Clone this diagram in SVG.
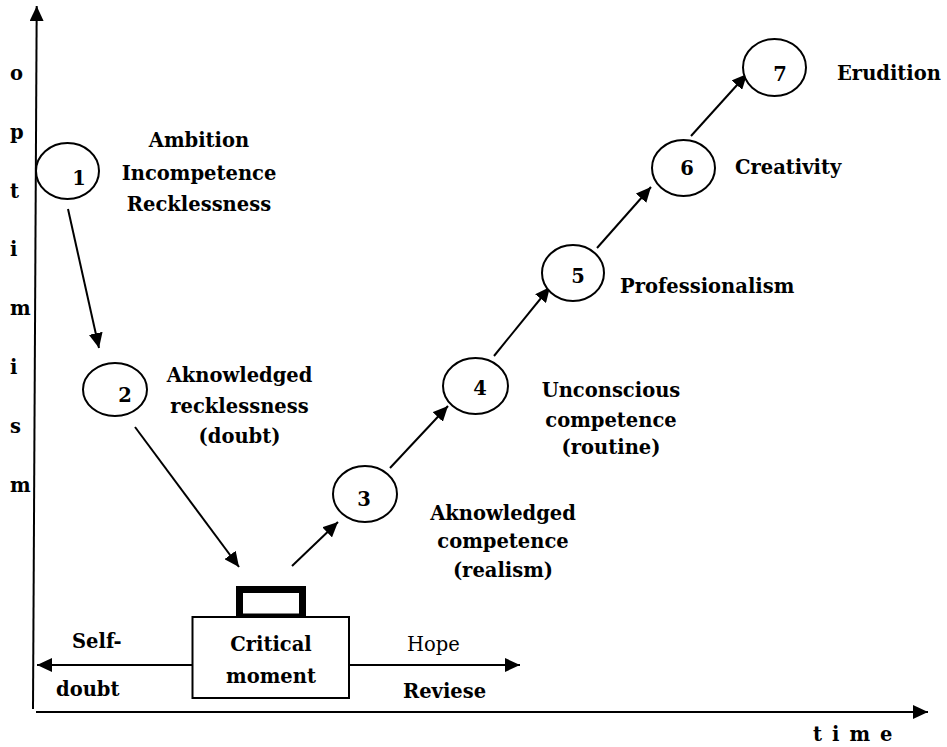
<svg xmlns="http://www.w3.org/2000/svg" width="947" height="747" viewBox="0 0 947 747">
<style>
text{font-family:"DejaVu Serif","Liberation Serif",serif;font-size:19.5px;fill:#000}
.b{font-weight:bold}
.c{text-anchor:middle}
.n{fill:#fff;stroke:#000;stroke-width:2}
.ln{stroke:#000;stroke-width:2;fill:none}
</style>
<defs>
<marker id="ah" viewBox="0 0 15 14" refX="15" refY="7" markerWidth="15" markerHeight="14" markerUnits="userSpaceOnUse" orient="auto">
<path d="M0,0 L15,7 L0,14 z" fill="#000"/>
</marker>
</defs>
<rect width="947" height="747" fill="#fff"/>
<g id="axes">
<line class="ln" x1="33" y1="709" x2="36.7" y2="6" marker-end="url(#ah)"/>
<line class="ln" x1="36" y1="712" x2="928" y2="712" marker-end="url(#ah)"/>
<g class="b">
<text x="10" y="80">o</text>
<text x="10" y="139">p</text>
<text x="10" y="197.6">t</text>
<text x="10" y="256.4">i</text>
<text x="10" y="315.2">m</text>
<text x="10" y="374">i</text>
<text x="10" y="432.8">s</text>
<text x="10" y="491.6">m</text>
</g>
<text class="b" x="813" y="741" letter-spacing="10">time</text>
</g>
<g id="connectors">
<line class="ln" x1="68" y1="209" x2="99" y2="348" marker-end="url(#ah)"/>
<line class="ln" x1="135" y1="427" x2="239" y2="567" marker-end="url(#ah)"/>
<line class="ln" x1="292" y1="566" x2="338" y2="522" marker-end="url(#ah)"/>
<line class="ln" x1="390" y1="468" x2="448" y2="406" marker-end="url(#ah)"/>
<line class="ln" x1="494" y1="356" x2="550" y2="287" marker-end="url(#ah)"/>
<line class="ln" x1="597" y1="248" x2="651" y2="187" marker-end="url(#ah)"/>
<line class="ln" x1="691" y1="136" x2="747" y2="74" marker-end="url(#ah)"/>
<line class="ln" x1="193" y1="665" x2="37" y2="665" marker-end="url(#ah)"/>
<line class="ln" x1="349" y1="665" x2="520" y2="665" marker-end="url(#ah)"/>
</g>
<g id="node1">
<ellipse class="n" cx="67.5" cy="171" rx="31.5" ry="28"/>
<text class="b c" x="79" y="185">1</text>
<text class="b c" x="199" y="147">Ambition</text>
<text class="b c" x="199" y="180">Incompetence</text>
<text class="b c" x="199" y="211">Recklessness</text>
</g>
<g id="node2">
<ellipse class="n" cx="115" cy="389.5" rx="32" ry="26.5"/>
<text class="b c" x="125" y="401.7">2</text>
<text class="b c" x="239.5" y="381.7">Aknowledged</text>
<text class="b c" x="239.5" y="413">recklessness</text>
<text class="b c" x="239.5" y="443">(doubt)</text>
</g>
<g id="critical-moment">
<rect x="239.5" y="589.5" width="63" height="27.5" fill="#fff" stroke="#000" stroke-width="7"/>
<rect x="192.5" y="617" width="156.5" height="81" fill="#fff" stroke="#000" stroke-width="2"/>
<text class="b c" x="271" y="651">Critical</text>
<text class="b c" x="271" y="683">moment</text>
<text class="b" x="72" y="648">Self-</text>
<text class="b" x="56" y="696">doubt</text>
<text x="407" y="651">Hope</text>
<text class="b" x="403" y="698">Reviese</text>
</g>
<g id="node3">
<ellipse class="n" cx="365" cy="494" rx="32" ry="28"/>
<text class="b c" x="364" y="506">3</text>
<text class="b c" x="503" y="520">Aknowledged</text>
<text class="b c" x="503" y="548">competence</text>
<text class="b c" x="503" y="577">(realism)</text>
</g>
<g id="node4">
<ellipse class="n" cx="475.5" cy="386" rx="32.5" ry="28"/>
<text class="b c" x="480" y="395">4</text>
<text class="b c" x="611" y="397">Unconscious</text>
<text class="b c" x="611" y="427">competence</text>
<text class="b c" x="611" y="454">(routine)</text>
</g>
<g id="node5">
<ellipse class="n" cx="573" cy="273" rx="31" ry="28"/>
<text class="b c" x="578" y="283">5</text>
<text class="b" x="620" y="293">Professionalism</text>
</g>
<g id="node6">
<ellipse class="n" cx="683.5" cy="168" rx="31.5" ry="28"/>
<text class="b c" x="687" y="175">6</text>
<text class="b" x="735" y="174">Creativity</text>
</g>
<g id="node7">
<ellipse class="n" cx="774.5" cy="67.5" rx="31.5" ry="28.5"/>
<text class="b c" x="780" y="81">7</text>
<text class="b" x="837" y="80">Erudition</text>
</g>
</svg>
